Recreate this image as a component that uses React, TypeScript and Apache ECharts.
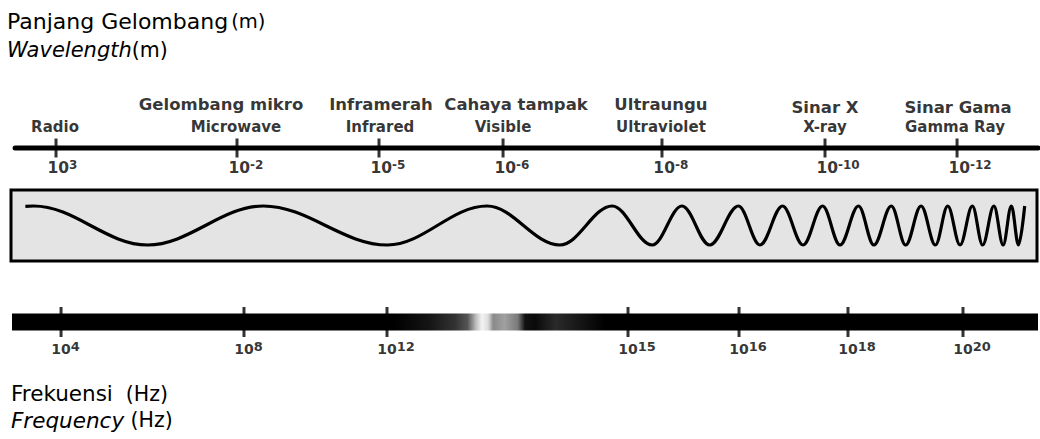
import React, { useEffect, useRef } from 'react';
import * as echarts from 'echarts';

// Positions along the spectrum (0 = left end of the band, 100 = right end)
const wavelengthTickPos = [4.29, 21.93, 35.77, 47.86, 63.35, 79.24, 92.11];
const wavelengthExponents = ['3', '-2', '-5', '-6', '-8', '-10', '-12'];
const bandNamesId = ['', 'Gelombang mikro', 'Inframerah', 'Cahaya tampak', 'Ultraungu', 'Sinar X', 'Sinar Gama'];
const bandNamesEn = ['Radio', 'Microwave', 'Infrared', 'Visible', 'Ultraviolet', 'X-ray', 'Gamma Ray'];
const frequencyTickPos = [4.78, 22.61, 36.55, 60.04, 70.86, 81.48, 92.69];
const frequencyExponents = ['4', '8', '12', '15', '16', '18', '20'];
const spectrumExtent = [0.3, 100];

// Start point, then crests (+1) and troughs (-1) of the drawn wave, along the box (0..100)
const waveExtremaPos = [
  1.4, 2.2, 13.3, 24.6, 36.7, 46.4, 53.5, 58.6, 62.5, 65.4, 68.1, 70.9, 73.0, 75.2, 77.2, 79.1, 80.8,
  82.6, 84.1, 85.8, 87.2, 88.7, 90.1, 91.3, 92.5, 93.7, 94.7, 95.8, 96.7, 97.5, 98.2, 98.8,
];
const waveExtremaLevel = [
  0.98, 1, -1, 1, -1, 1, -1, 1, -1, 1, -1, 1, -1, 1, -1, 1, -1,
  1, -1, 1, -1, 1, -1, 1, -1, 1, -1, 1, -1, 1, -1, 1,
];

const FONT = 'DejaVu Sans';

// label nudges (pixels) for the band names
const idNudge = [[0, 0], [-16, 0], [2, 0], [13, 0], [-1, 0], [0, 3], [1, 3]];
const enNudge = [[-1, 0], [-1, 0], [1, 0], [0, 0], [-1, 0], [0, 0], [-2, 0]];

export default function App() {
  const ref = useRef<HTMLDivElement>(null);

  useEffect(() => {
    if (!ref.current) return;
    const chart = echarts.init(ref.current, null, { renderer: 'svg' });

    const barGradient = new echarts.graphic.LinearGradient(0, 0, 1, 0, [
      { offset: 0, color: '#000' },
      { offset: 0.373, color: '#000' },
      { offset: 0.407, color: '#151515' },
      { offset: 0.432, color: '#333' },
      { offset: 0.444, color: '#555' },
      { offset: 0.452, color: '#bbb' },
      { offset: 0.458, color: '#f4f4f4' },
      { offset: 0.464, color: '#ddd' },
      { offset: 0.469, color: '#8a8a8a' },
      { offset: 0.48, color: '#a0a0a0' },
      { offset: 0.493, color: '#7a7a7a' },
      { offset: 0.5, color: '#111' },
      { offset: 0.51, color: '#0a0a0a' },
      { offset: 0.53, color: '#2a2a2a' },
      { offset: 0.554, color: '#151515' },
      { offset: 0.578, color: '#000' },
      { offset: 1, color: '#000' },
    ]);

    const tickLabel = (exps: string[], base: number, sup: number, dx: number, distance: number) => ({
      show: true,
      position: 'bottom',
      distance,
      align: 'left',
      offset: [dx, 0],
      formatter: (p: any) => `{b|10}{s|${exps[p.dataIndex]}}`,
      rich: {
        b: { fontSize: base, fontWeight: 'bold', fontFamily: FONT, color: '#000', lineHeight: 18 },
        s: { fontSize: sup, fontWeight: 'bold', fontFamily: FONT, color: '#000', lineHeight: 8, verticalAlign: 'top' },
      },
    });

    const hiddenX = (gridIndex: number) => ({
      type: 'value', gridIndex, min: 0, max: 100, show: false,
    });
    const hiddenY = (gridIndex: number, m: number) => ({
      type: 'value', gridIndex, min: -m, max: m, show: false,
    });

    const nameSeries = (names: string[], nudge: number[][], distance: number, size: number) => ({
      type: 'scatter', xAxisIndex: 0, yAxisIndex: 0, silent: true,
      data: wavelengthTickPos.map((x, i) => ({
        value: [x, 0],
        label: { offset: nudge[i] },
      })),
      symbol: 'circle',
      symbolSize: 1,
      itemStyle: { color: 'rgba(0,0,0,0)' },
      z: 5,
      label: {
        show: true, position: 'top', distance,
        formatter: (p: any) => names[p.dataIndex],
        fontSize: size, fontWeight: 'bold', fontFamily: FONT, color: '#000', lineHeight: size + 1,
      },
    });

    chart.setOption({
      animation: false,
      backgroundColor: '#fff',
      grid: [
        { left: 12, width: 1026, top: 138, height: 20, show: false },
        {
          left: 11, width: 1026, top: 190, height: 71, show: true,
          backgroundColor: '#e4e4e4', borderColor: '#000', borderWidth: 3,
        },
        {
          left: 12, width: 1026, top: 313.5, height: 17, show: true,
          backgroundColor: barGradient, borderWidth: 0,
        },
      ],
      xAxis: [hiddenX(0), hiddenX(1), hiddenX(2)],
      yAxis: [hiddenY(0, 1), hiddenY(1, 1.82), hiddenY(2, 1)],
      graphic: [
        {
          type: 'text', left: 7, top: 10.5, silent: true,
          style: {
            text: '{a|Panjang Gelombang}{m|(m)}\n{i|Wavelength}{n|(m)}',
            rich: {
              a: { fontSize: 22, fontFamily: FONT, fill: '#000', lineHeight: 28.5 },
              m: { fontSize: 19.5, fontFamily: FONT, fill: '#000', lineHeight: 28.5, padding: [0, 0, 0, 3] },
              i: { fontSize: 21, fontStyle: 'italic', fontFamily: FONT, fill: '#000', lineHeight: 28.5 },
              n: { fontSize: 20.5, fontFamily: FONT, fill: '#000', lineHeight: 28.5 },
            },
          },
        },
        {
          type: 'text', left: 11, top: 382.5, silent: true,
          style: {
            text: '{a|Frekuensi}{h|  (Hz)}\n{i|Frequency}{h|\u00a0(Hz)}',
            rich: {
              a: { fontSize: 21.5, fontFamily: FONT, fill: '#000', lineHeight: 26.5 },
              i: { fontSize: 21.5, fontStyle: 'italic', fontFamily: FONT, fill: '#000', lineHeight: 26.5 },
              h: { fontSize: 20.5, fontFamily: FONT, fill: '#000', lineHeight: 26.5 },
            },
          },
        },
      ],
      series: [
        {
          type: 'line', xAxisIndex: 0, yAxisIndex: 0, silent: true, clip: false,
          data: spectrumExtent.map((x) => [x, 0]),
          symbol: 'none',
          lineStyle: { color: '#000', width: 5, cap: 'round' },
        },
        {
          type: 'scatter', xAxisIndex: 0, yAxisIndex: 0, silent: true,
          data: wavelengthTickPos.map((x) => [x, 0]),
          symbol: 'rect', symbolSize: [3, 19],
          itemStyle: { color: '#000' },
          label: tickLabel(wavelengthExponents, 15.5, 12, -8.6, 1.2),
        },
        nameSeries(bandNamesEn, enNudge, 12.2, 15),
        nameSeries(bandNamesId, idNudge, 34.5, 16.5),
        {
          type: 'line', xAxisIndex: 1, yAxisIndex: 1, silent: true,
          data: waveExtremaPos.map((x, i) => [x, waveExtremaLevel[i]]),
          smooth: 0.36, smoothMonotone: 'x',
          symbol: 'none',
          lineStyle: { color: '#000', width: 3.2 },
        },
        {
          type: 'scatter', xAxisIndex: 2, yAxisIndex: 2, silent: true,
          data: frequencyTickPos.map((x) => [x, 0]),
          symbol: 'rect', symbolSize: [3, 30],
          itemStyle: { color: '#000' },
          label: tickLabel(frequencyExponents, 14, 13, -9.7, 2.6),
        },
      ],
    });

    return () => chart.dispose();
  }, []);

  return (
    <div
      ref={ref}
      style={{ position: 'fixed', left: 0, top: 0, width: 1040, height: 439, background: '#fff' }}
    />
  );
}
